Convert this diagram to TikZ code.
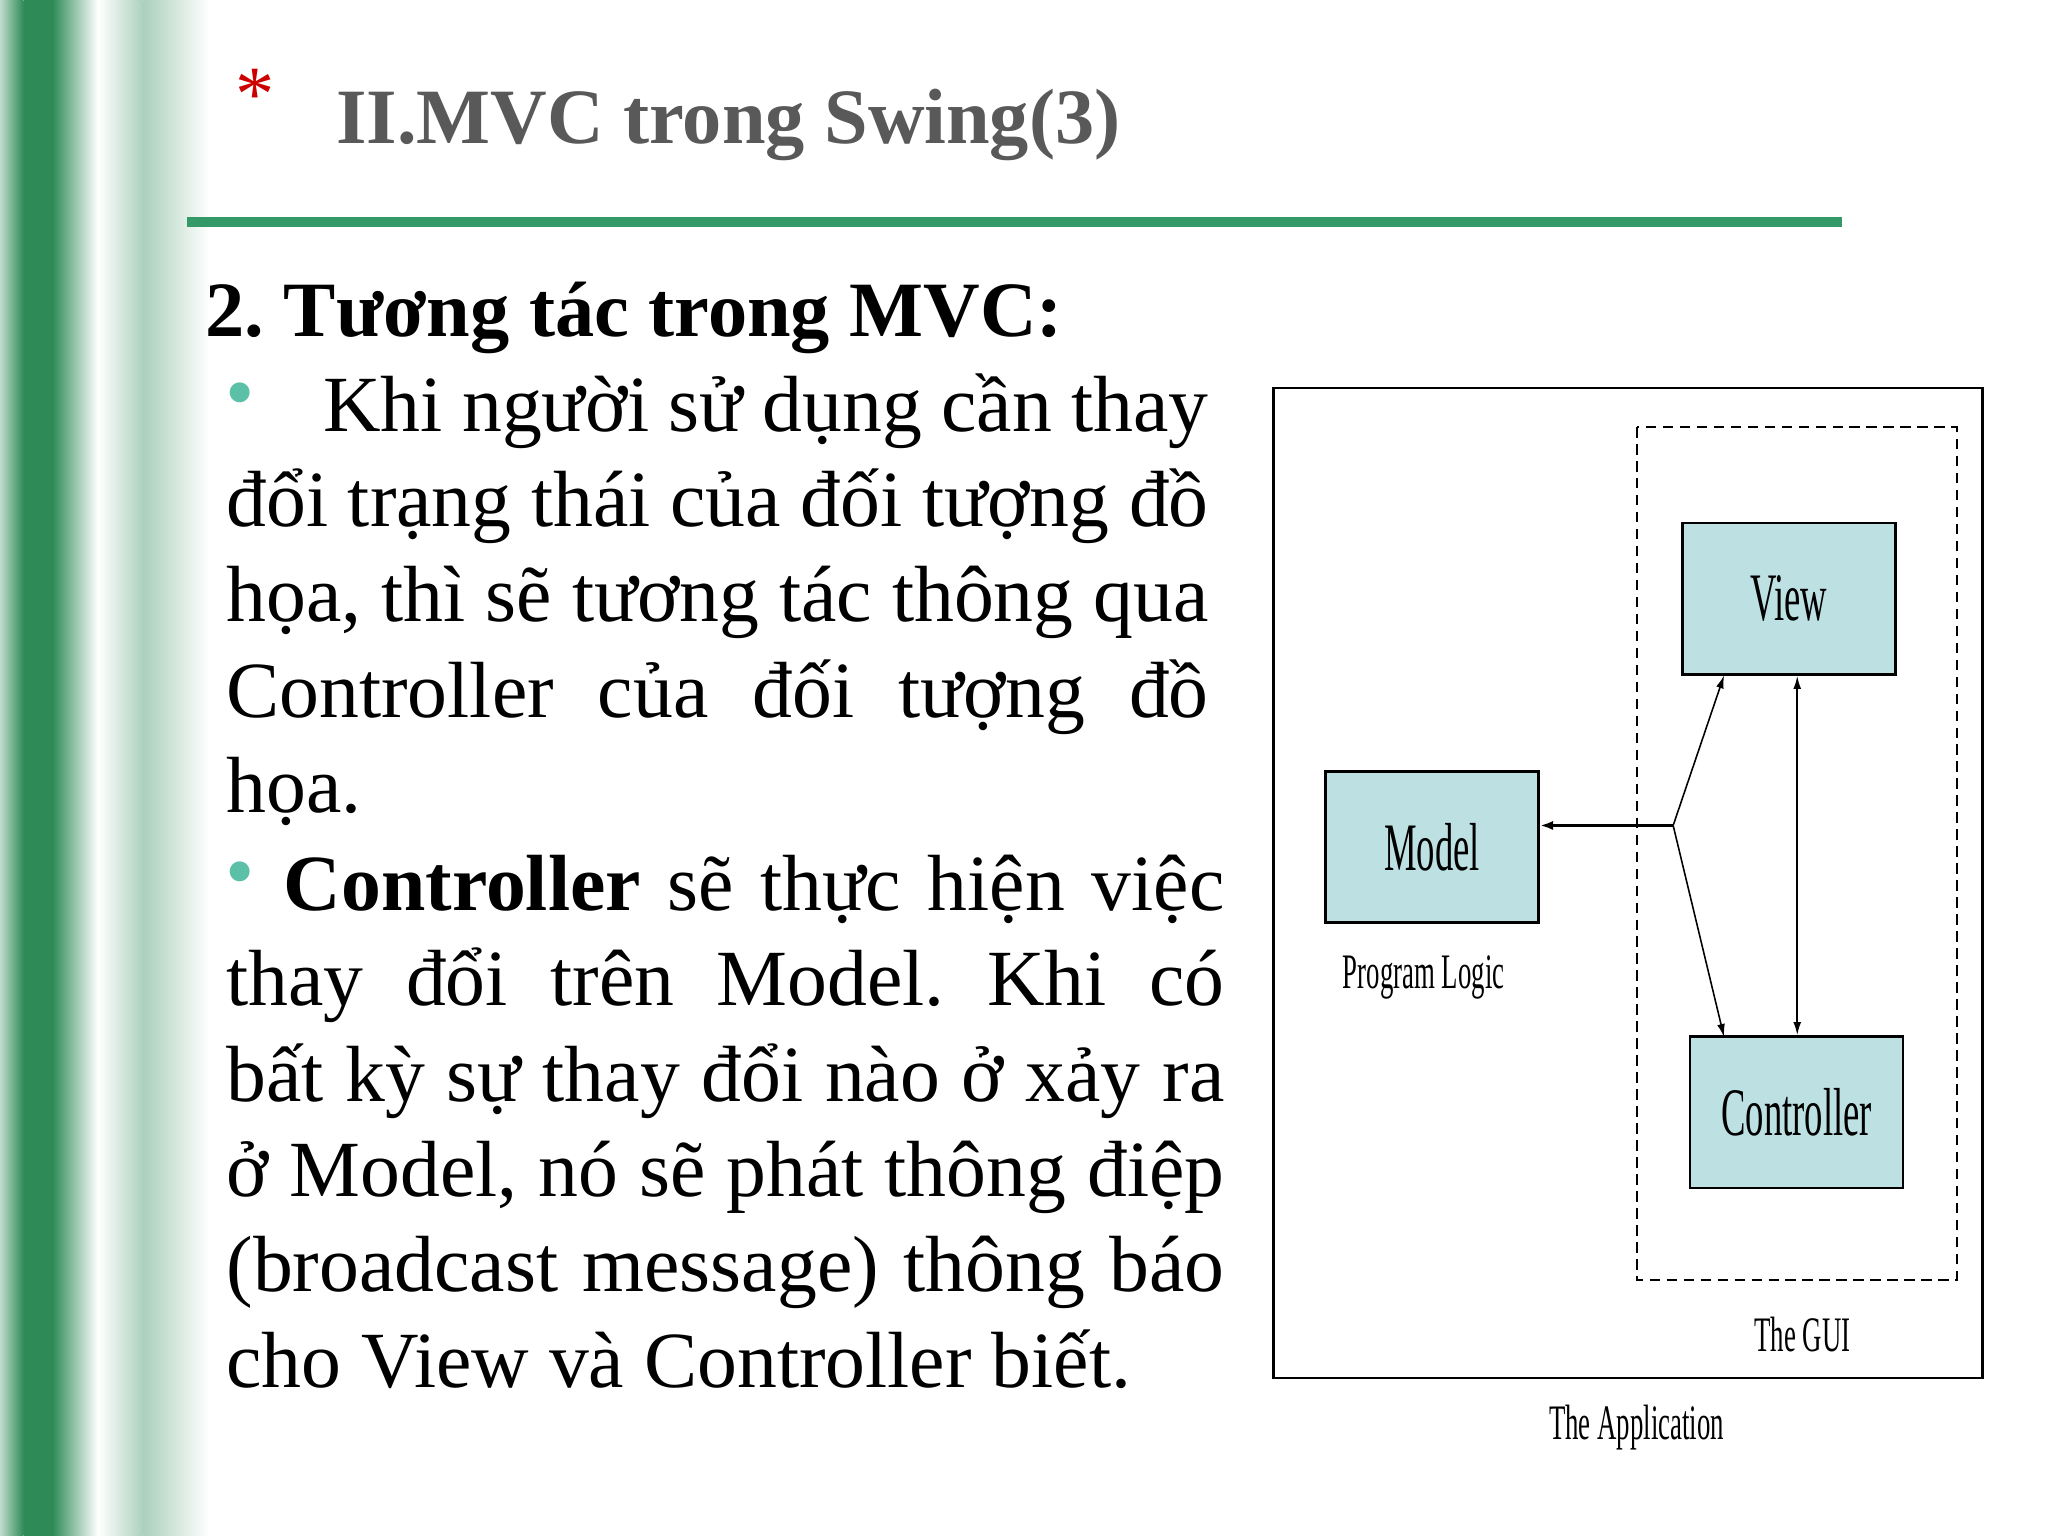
\documentclass[tikz,border=0pt]{standalone}
\usepackage{fontspec}
\setmainfont{Liberation Serif}
\newfontfamily\narrowfont[FakeStretch=0.54]{Liberation Serif}
\usetikzlibrary{arrows.meta}
\frenchspacing
\definecolor{dgreen}{HTML}{2E8B57}
\definecolor{rulegreen}{HTML}{339966}
\definecolor{boxfill}{HTML}{BDE0E3}
\definecolor{bullet}{HTML}{5CBFA8}
\tikzset{
  body/.style={anchor=base west,inner sep=0pt,font=\fontsize{30.5}{36}\selectfont},
  comp/.style={draw,line width=1pt,fill=boxfill,minimum width=81.5pt,minimum height=58pt,inner sep=0pt,font=\narrowfont\fontsize{26}{28}\selectfont},
  lbl/.style={inner sep=0pt,font=\narrowfont\fontsize{19}{20}\selectfont},
  arr/.style={line width=0.6pt,-{Latex[length=5pt,width=3pt]}},
  bul/.style={anchor=base west,inner sep=0pt,text=bullet,font=\fontsize{32}{36}\selectfont}
}
\begin{document}
\begin{tikzpicture}[x=0.5pt,y=-0.5pt]
\useasboundingbox (0,0) rectangle (1568,1176);
\fill[white] (0,0) rectangle (1568,1176);
% left strip
\shade[left color=dgreen!30,right color=dgreen] (0,0) rectangle (18,1176);
\fill[dgreen] (18,0) rectangle (40,1176);
\shade[left color=dgreen,right color=white] (40,0) rectangle (75,1176);
\shade[left color=white,right color=dgreen!40] (75,0) rectangle (110,1176);
\shade[left color=dgreen!40,right color=white] (110,0) rectangle (160,1176);
% title
\node[anchor=base west,inner sep=0pt,text=red!80!black,font=\fontsize{30}{30}\selectfont] (star) at (180,92) {*};
\node[anchor=base west,inner sep=0pt,text=black!65,font=\bfseries\fontsize{30}{34}\selectfont] (title) at (257,110) {II.MVC trong Swing(3)};
\fill[rulegreen] (143,166) rectangle (1410,174);
% text
\node[anchor=base west,inner sep=0pt,font=\bfseries\fontsize{30}{36}\selectfont] (head) at (157,258) {2. Tương tác trong MVC:};
\node[bul] (b1) at (172,322) {•};
\node[body] (l1) at (247,330) {\makebox[339pt][s]{Khi người sử dụng cần thay}};
\node[body] (l2) at (173,403) {\makebox[376pt][s]{đổi trạng thái của đối tượng đồ}};
\node[body] (l3) at (173,476) {\makebox[376pt][s]{họa, thì sẽ tương tác thông qua}};
\node[body] (l4) at (173,549) {\makebox[376pt][s]{Controller của đối tượng đồ}};
\node[body] (l5) at (173,622) {họa.};
\node[bul] (b2) at (172,689) {•};
\node[body] (l6) at (217,697) {\makebox[360pt][s]{\textbf{Controller} sẽ thực hiện việc}};
\node[body] (l7) at (173,770) {\makebox[382pt][s]{thay đổi trên Model. Khi có}};
\node[body] (l8) at (173,843) {\makebox[382pt][s]{bất kỳ sự thay đổi nào ở xảy ra}};
\node[body] (l9) at (173,916) {\makebox[382pt][s]{ở Model, nó sẽ phát thông điệp}};
\node[body] (l10) at (173,989) {\makebox[382pt][s]{(broadcast message) thông báo}};
\node[body] (l11) at (173,1062) {cho View và Controller biết.};
% diagram
\draw[line width=1pt] (975,297) rectangle (1518,1055);
\draw[line width=0.8pt,dash pattern=on 4pt off 2.5pt] (1253,327) rectangle (1498,980);
\node[comp] (view) at (1369.5,458.5) {View};
\node[comp] (model) at (1096.5,648.5) {Model};
\node[comp] (ctrl) at (1375.5,851.5) {Controller};
\node[lbl] (pl) at (1090,748) {Program Logic};
\node[lbl] (gui) at (1380,1022) {The GUI};
\node[lbl] (app) at (1253,1093) {The Application};
\coordinate (j) at (1281,632);
\draw[line width=1pt,-{Latex[length=5pt,width=3.5pt]}] (j) -- (model.east |- j);
\draw[arr] (j) -- (1320,517);
\draw[arr] (j) -- (1320,794);
\draw[line width=0.6pt,{Latex[length=5pt,width=3pt]}-{Latex[length=5pt,width=3pt]}] (view.south -| 1376,0) -- (ctrl.north -| 1376,0);
\end{tikzpicture}
\end{document}
